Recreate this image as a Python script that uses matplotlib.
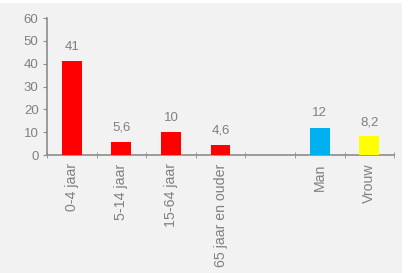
import matplotlib
matplotlib.use("Agg")
import matplotlib.pyplot as plt
from matplotlib.patches import Rectangle

plt.rcParams["font.family"] = ["Liberation Sans", "DejaVu Sans"]

categories = ["0-4 jaar", "5-14 jaar", "15-64 jaar", "65 jaar en ouder", "", "Man", "Vrouw"]
values = [41, 5.6, 10, 4.6, None, 12, 8.2]
value_labels = ["41", "5,6", "10", "4,6", "", "12", "8,2"]
colors = ["#ff0000", "#ff0000", "#ff0000", "#ff0000", "none", "#00b0f0", "#ffff00"]
yticks = [0, 10, 20, 30, 40, 50, 60]

bg = "#f2f2f2"
txt = "#808080"
axc = "#8c8c8c"

fig = plt.figure(figsize=(4.08, 2.73), dpi=100)
fig.patch.set_facecolor("white")
fig.add_artist(Rectangle((0, 0), 402 / 408, 270 / 273, transform=fig.transFigure,
                         facecolor=bg, edgecolor="none", zorder=0))
ax = fig.add_axes([0.115, 0.432, 0.851, 0.502])
ax.set_facecolor(bg)

xs = list(range(len(categories)))
for x, v, c, lab in zip(xs, values, colors, value_labels):
    if v is None:
        continue
    ax.bar(x, v, width=0.4, color=c, zorder=3)
    ax.annotate(lab, (x, v), xytext=(0, 6), textcoords="offset points",
                ha="center", va="bottom", fontsize=9.5, color=txt)

ax.set_xlim(-0.5, len(categories) - 0.5)
ax.set_ylim(0, 60)
ax.set_yticks(yticks)
ax.set_yticklabels([str(t) for t in yticks], fontsize=9.5, color=txt)
ax.set_xticks(xs)
ax.set_xticklabels(categories, rotation=90, fontsize=10.2, color=txt)
ax.tick_params(axis="x", length=0, pad=6)
ax.set_xticks([i - 0.5 for i in range(len(categories) + 1)], minor=True)
ax.tick_params(axis="x", which="minor", length=4, direction="inout", color=axc)
ax.tick_params(axis="y", length=3, color=axc, direction="out", pad=3)

for s in ["top", "right"]:
    ax.spines[s].set_visible(False)
for s in ["left", "bottom"]:
    ax.spines[s].set_color(axc)
    ax.spines[s].set_linewidth(1.2)

fig.savefig("out.png", dpi=100, facecolor="white")
